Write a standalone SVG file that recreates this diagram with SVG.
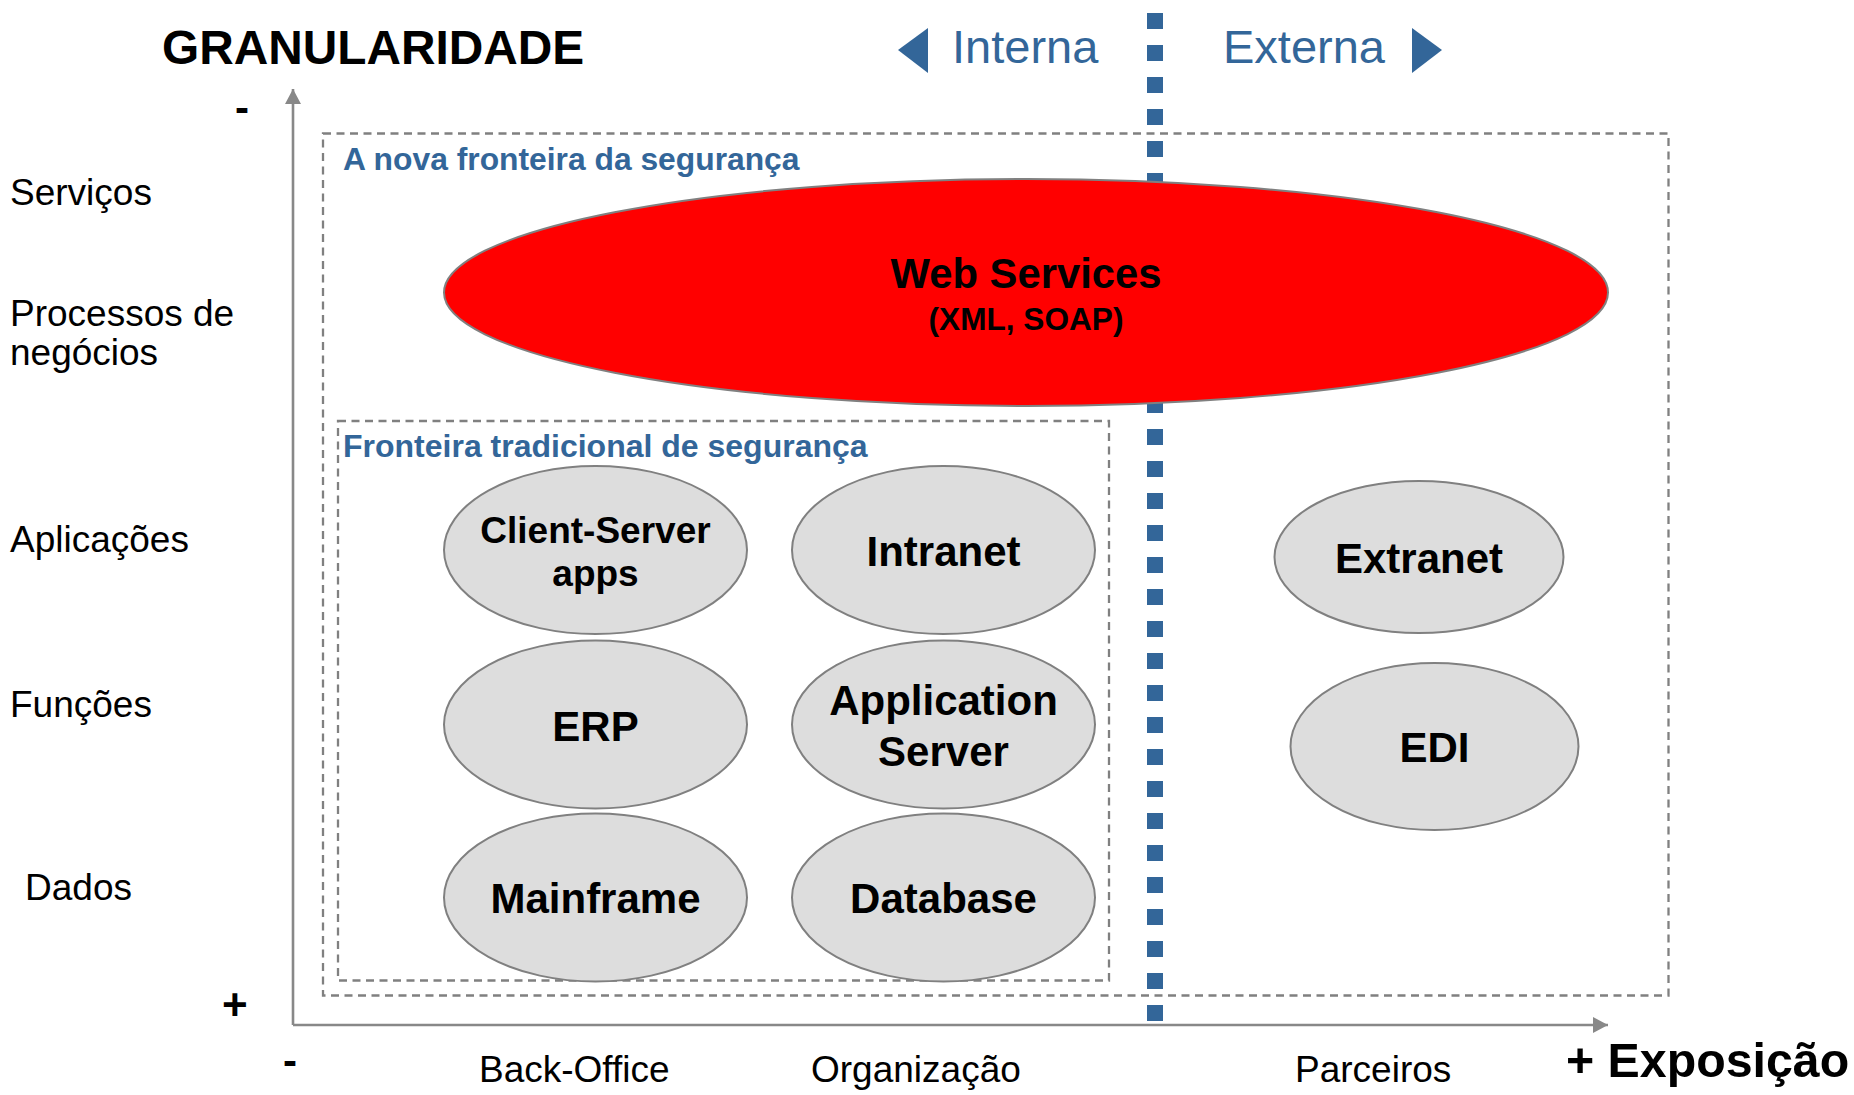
<svg xmlns="http://www.w3.org/2000/svg" width="1854" height="1095" viewBox="0 0 1854 1095">
<defs>
<style>
text{font-family:"Liberation Sans",Arial,sans-serif;}
.b{font-weight:bold;}
.blue{fill:#336699;}
.lbl{font-size:37px;fill:#000;}
.node{fill:#DDDDDD;stroke:#808080;stroke-width:2;}
.nt{font-weight:bold;font-size:42px;fill:#000;text-anchor:middle;}
.nt.sm{font-size:37px;}
.frame{fill:none;stroke:#808080;stroke-width:2.3;stroke-dasharray:8,5.5;}
.axis{stroke:#888888;stroke-width:2.6;fill:none;}
</style>
<marker id="arr" markerUnits="userSpaceOnUse" markerWidth="16" markerHeight="16" refX="15" refY="8" orient="auto">
<path d="M0,0 L15,8 L0,16 Z" fill="#888888"/>
</marker>
</defs>
<rect width="1854" height="1095" fill="#FFFFFF"/>

<g id="frames">
<rect class="frame" x="323" y="133.5" width="1345.5" height="862"/>
<rect class="frame" x="338" y="421" width="771" height="559.5"/>
<text class="b blue" x="343" y="170" font-size="31.8">A nova fronteira da segurança</text>
<text class="b blue" x="343" y="457" font-size="32">Fronteira tradicional de segurança</text>
</g>

<g id="boundary">
<line x1="1155" y1="13" x2="1155" y2="1021" stroke="#336699" stroke-width="16" stroke-dasharray="16,16"/>
<polygon class="blue" points="898,50 928,28 928,73"/>
<text class="blue" x="952" y="63" font-size="47">Interna</text>
<text class="blue" x="1223" y="63" font-size="47">Externa</text>
<polygon class="blue" points="1412,28 1442,50 1412,73"/>
</g>

<g id="connectors">
<line class="axis" x1="293" y1="1025" x2="293" y2="89" marker-end="url(#arr)"/>
<line class="axis" x1="293" y1="1025" x2="1608" y2="1025" marker-end="url(#arr)"/>
</g>

<g id="web-services">
<ellipse cx="1026" cy="292.5" rx="582" ry="113.5" fill="#FF0000" stroke="#808080" stroke-width="2"/>
<text class="b" x="1026" y="288" font-size="41.8" text-anchor="middle">Web Services</text>
<text class="b" x="1026" y="330" font-size="31.6" text-anchor="middle">(XML, SOAP)</text>
</g>

<g id="client-server">
<ellipse class="node" cx="595.5" cy="550" rx="151.5" ry="84"/>
<text class="nt sm" x="595.5" y="543">Client-Server</text>
<text class="nt sm" x="595.5" y="586">apps</text>
</g>
<g id="intranet">
<ellipse class="node" cx="943.5" cy="550" rx="151.5" ry="84"/>
<text class="nt" x="943.5" y="566">Intranet</text>
</g>
<g id="erp">
<ellipse class="node" cx="595.5" cy="724.5" rx="151.5" ry="84"/>
<text class="nt" x="595.5" y="741">ERP</text>
</g>
<g id="application-server">
<ellipse class="node" cx="943.5" cy="724.5" rx="151.5" ry="84"/>
<text class="nt" x="943.5" y="715">Application</text>
<text class="nt" x="943.5" y="766">Server</text>
</g>
<g id="mainframe">
<ellipse class="node" cx="595.5" cy="897.5" rx="151.5" ry="84"/>
<text class="nt" x="595.5" y="913">Mainframe</text>
</g>
<g id="database">
<ellipse class="node" cx="943.5" cy="897.5" rx="151.5" ry="84"/>
<text class="nt" x="943.5" y="913">Database</text>
</g>
<g id="extranet">
<ellipse class="node" cx="1419" cy="557" rx="144.5" ry="76"/>
<text class="nt" x="1419" y="573">Extranet</text>
</g>
<g id="edi">
<ellipse class="node" cx="1434.5" cy="746.5" rx="144" ry="83.5"/>
<text class="nt" x="1434.5" y="762">EDI</text>
</g>

<g id="y-axis-labels">
<text class="b" x="162" y="64" font-size="47.8">GRANULARIDADE</text>
<text class="b" x="235" y="122" font-size="42">-</text>
<text class="b" x="222" y="1020" font-size="44">+</text>
<text class="lbl" x="10" y="205">Serviços</text>
<text class="lbl" x="10" y="326">Processos de</text>
<text class="lbl" x="10" y="365">negócios</text>
<text class="lbl" x="10" y="552">Aplicações</text>
<text class="lbl" x="10" y="717">Funções</text>
<text class="lbl" x="25" y="900">Dados</text>
</g>

<g id="x-axis-labels">
<text class="b" x="283" y="1075" font-size="42">-</text>
<text class="lbl" x="479" y="1082">Back-Office</text>
<text class="lbl" x="811" y="1082">Organização</text>
<text class="lbl" x="1295" y="1082">Parceiros</text>
<text class="b" x="1566" y="1077" font-size="48.3">+ Exposição</text>
</g>
</svg>
